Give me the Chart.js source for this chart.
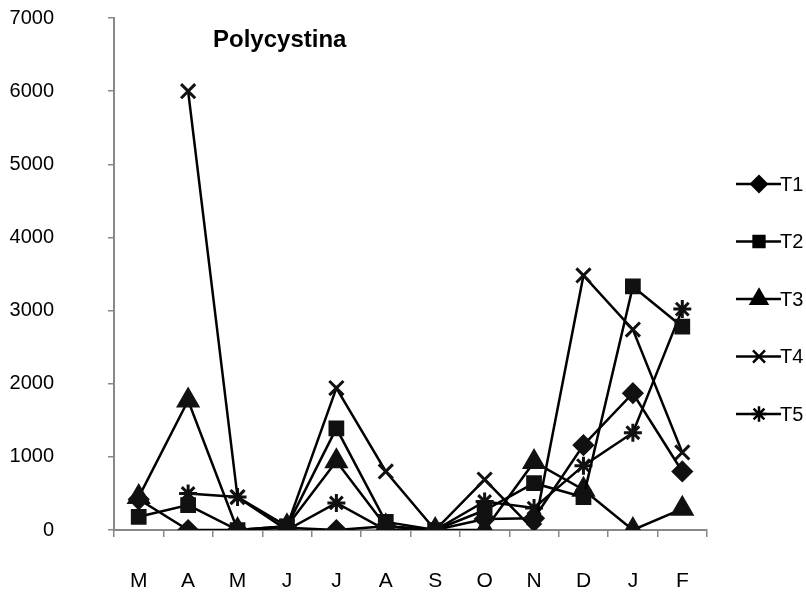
<!DOCTYPE html>
<html>
<head>
<meta charset="utf-8">
<script src="https://cdn.jsdelivr.net/npm/chart.js@4/dist/chart.umd.min.js"></script>
<style>
  html, body { margin: 0; padding: 0; background: #fff; }
  #wrap { width: 806px; height: 592px; }
</style>
</head>
<body>
<div id="wrap"><canvas id="polyChart" width="806" height="592"></canvas></div>
<script>
const months = ['M', 'A', 'M', 'J', 'J', 'A', 'S', 'O', 'N', 'D', 'J', 'F'];
const yTicks = [0, 1000, 2000, 3000, 4000, 5000, 6000, 7000];

const t1 = [420, 0, 0, 30, 0, 50, 0, 150, 160, 1160, 1870, 800];
const t2 = [180, 340, 0, 50, 1390, 110, 0, 270, 640, 450, 3330, 2780];
const t3 = [450, 1770, 0, 50, 940, 50, 0, 0, 930, 550, 0, 290];
const t4 = [null, 6000, 450, 50, 1940, 800, 0, 690, 0, 3480, 2740, 1060];
const t5 = [null, 500, 450, 0, 370, 0, 0, 390, 300, 880, 1330, 3020];

const seriesNames = ['T1', 'T2', 'T3', 'T4', 'T5'];
const seriesData = [t1, t2, t3, t4, t5];
const markers = [
    {style: 'rectRot', radius: 9},
    {style: 'rect', radius: 9},
    {style: 'triangle', radius: 11},
    {style: 'crossRot', radius: 10},
    {style: 'star', radius: 9}
];

const font = '"Liberation Sans", Arial, sans-serif';

// title inside the plot and a legend with line + marker on the right
const extras = {
    id: 'extras',
    afterDraw(chart) {
        const ctx = chart.ctx;
        ctx.save();
        ctx.fillStyle = '#000';
        ctx.font = 'bold 24px ' + font;
        ctx.textBaseline = 'middle';
        ctx.textAlign = 'left';
        ctx.fillText('Polycystina', 213, 40);

        chart.data.datasets.forEach((ds, i) => {
            const y = 184 + i * 57.5;
            ctx.strokeStyle = '#000';
            ctx.lineWidth = 2.5;
            ctx.beginPath();
            ctx.moveTo(736, y);
            ctx.lineTo(781, y);
            ctx.stroke();
            ctx.fillStyle = '#000';
            Chart.helpers.drawPoint(ctx, {
                pointStyle: ds.pointStyle,
                radius: ds.pointRadius * 0.85,
                rotation: 0,
                borderWidth: ds.pointBorderWidth
            }, 759, y);
            ctx.fillStyle = '#000';
            ctx.font = '20px ' + font;
            ctx.textAlign = 'left';
            ctx.fillText(ds.label, 780, y + 1);
        });
        ctx.restore();
    }
};

new Chart(document.getElementById('polyChart'), {
    type: 'line',
    data: {
        labels: months,
        datasets: seriesData.map((d, i) => ({
            label: seriesNames[i],
            data: d,
            borderColor: '#000',
            backgroundColor: '#000',
            borderWidth: 2.5,
            tension: 0,
            pointStyle: markers[i].style,
            pointRadius: markers[i].radius,
            pointBackgroundColor: '#111',
            pointBorderColor: '#111',
            pointBorderWidth: 3
        }))
    },
    options: {
        responsive: false,
        animation: false,
        layout: {autoPadding: false, padding: {left: 5, right: 99, top: 18, bottom: 0}},
        plugins: {
            legend: {display: false},
            title: {display: false},
            tooltip: {enabled: false}
        },
        scales: {
            x: {
                offset: true,
                grid: {
                    offset: true,
                    drawOnChartArea: false,
                    drawTicks: true,
                    tickLength: 7,
                    color: '#888',
                    lineWidth: 1.5
                },
                border: {color: '#888', width: 2},
                ticks: {
                    color: '#000',
                    font: {family: font, size: 21},
                    padding: 32,
                    maxRotation: 0,
                    autoSkip: false
                },
                afterFit(scale) { scale.height = 62; }
            },
            y: {
                min: 0,
                max: 7000,
                afterBuildTicks(scale) { scale.ticks = yTicks.map(v => ({value: v})); },
                grid: {
                    drawOnChartArea: false,
                    drawTicks: true,
                    tickLength: 6,
                    color: '#888',
                    lineWidth: 1.5
                },
                border: {color: '#888', width: 2},
                ticks: {
                    color: '#000',
                    font: {family: font, size: 20},
                    padding: 54,
                    callback: v => String(v)
                },
                afterFit(scale) {
                    scale.width = 109;
                    scale.paddingTop = 0;
                    scale.paddingBottom = 0;
                }
            }
        }
    },
    plugins: [extras]
});
</script>
</body>
</html>
